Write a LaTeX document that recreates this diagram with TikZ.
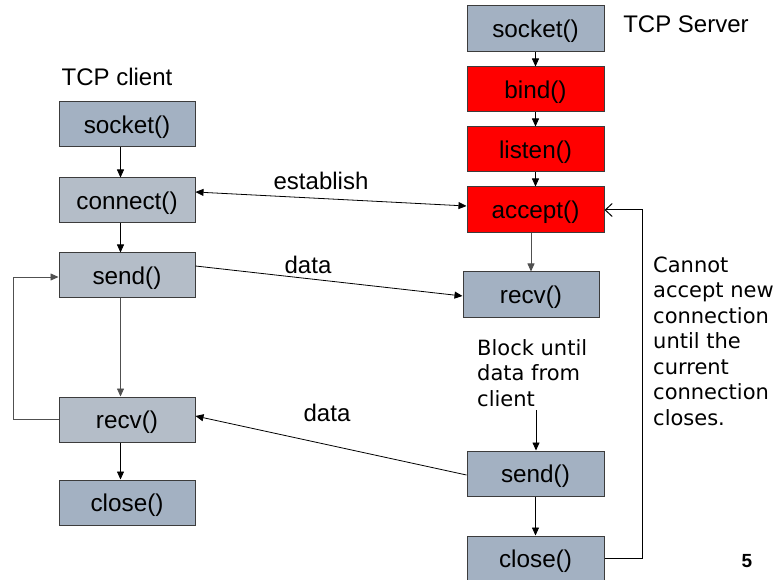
\documentclass[tikz,border=0pt]{standalone}
\usepackage{fontspec}
\setmainfont{Liberation Sans}
\newfontfamily\dejavu{DejaVu Sans}
\usetikzlibrary{arrows.meta}
\definecolor{boxdark}{RGB}{163,177,194}
\definecolor{boxlight}{RGB}{180,189,200}
\definecolor{boxline}{RGB}{60,60,60}
\definecolor{lgrey}{RGB}{80,80,80}
\begin{document}
\begin{tikzpicture}[x=1pt,y=-1pt,
  fbox/.style={draw=boxline, line width=1pt, minimum width=136pt, minimum height=45pt, inner sep=0pt, text height=23pt, text depth=5pt, font=\fontsize{24.3}{29}\selectfont},
  dark/.style={fbox, fill=boxdark},
  light/.style={fbox, fill=boxlight},
  redb/.style={fbox, fill=red},
  arr/.style={-{Triangle[length=8pt,width=7pt]}, line width=0.8pt},
  darr/.style={{Triangle[length=8pt,width=7pt]}-{Triangle[length=8pt,width=7pt]}, line width=0.8pt},
  lbl/.style={font=\fontsize{24}{29}\selectfont, inner sep=0pt},
  note/.style={font=\dejavu\fontsize{21}{25.5}\selectfont, align=left, inner sep=0pt, anchor=base west}
]
\useasboundingbox (0,0) rectangle (777,580);

% client column
\node[dark]  (csock) at (127,124.5) {socket()};
\node[light] (cconn) at (127,200.5) {connect()};
\node[light] (csend) at (127,275.5) {send()};
\node[light] (crecv) at (127,419.5) {recv()};
\node[dark]  (cclose) at (127,502.5) {close()};

% server column
\node[dark, minimum width=137pt, minimum height=46pt] (ssock) at (535.5,29) {socket()};
\node[redb, minimum width=137pt] (sbind) at (535.5,89.5) {bind()};
\node[redb, minimum width=137pt] (slisten) at (535.5,149.5) {listen()};
\node[redb, minimum width=137pt, minimum height=46pt] (saccept) at (535.5,210) {accept()};
\node[dark, minimum height=46pt] (srecv) at (531,295) {recv()};
\node[dark, minimum width=137pt] (ssend) at (535.5,473.5) {send()};
\node[dark, minimum width=137pt] (sclose) at (535.5,558.5) {close()};

% labels
\node[lbl] (tserver) at (686,24) {TCP Server};
\node[lbl] (tclient) at (117,77) {TCP client};
\node[lbl] (lest) at (321,181) {establish};
\node[lbl] (ldata1) at (308,265) {data};
\node[lbl] (ldata2) at (327,413) {data};
\node[note] (block) at (477,406) {Block until\\data from\\client};
\node[note] (cannot) at (653,425) {Cannot\\accept new\\connection\\until the\\current\\connection\\closes.};
\node[font=\bfseries\fontsize{19}{22}\selectfont, inner sep=0pt] (pnum) at (747,561) {5};

% client vertical arrows
\draw[arr] ([xshift=-6.5pt]csock.south) -- ([xshift=-6.5pt]cconn.north);
\draw[arr] ([xshift=-6.5pt]cconn.south) -- ([xshift=-6.5pt]csend.north);
\draw[arr, lgrey] ([xshift=-6.5pt]csend.south) -- ([xshift=-6.5pt]crecv.north);
\draw[arr] ([xshift=-6.5pt]crecv.south) -- ([xshift=-6.5pt]cclose.north);

% client loop
\coordinate (lp) at (13,277);
\draw[arr, lgrey] (crecv.west) -| (lp) -- (lp -| csend.west);

% server vertical arrows
\draw[arr] (ssock.south) -- (sbind.north);
\draw[arr] (sbind.south) -- (slisten.north);
\draw[arr] (slisten.south) -- (saccept.north);
\draw[arr, lgrey] (srecv.north |- saccept.south) -- (srecv.north);
\coordinate (bk) at (536,410);
\draw[arr] (bk) -- (bk |- ssend.north);
\draw[arr] (ssend.south) -- (sclose.north);

% feedback
\coordinate (fb) at (642,210);
\draw[line width=1pt, -{Straight Barb[length=7pt,width=13pt]}] (sclose.east) -| (fb) -- (saccept.east);

% messages
\draw[darr] ([yshift=8.5pt]cconn.east) -- ([yshift=4pt]saccept.west);
\draw[arr] ([yshift=9.5pt]csend.east) -- ([yshift=-1pt]srecv.west);
\draw[arr] ([yshift=-1.5pt]ssend.west) -- ([yshift=3.5pt]crecv.east);
\end{tikzpicture}
\end{document}
